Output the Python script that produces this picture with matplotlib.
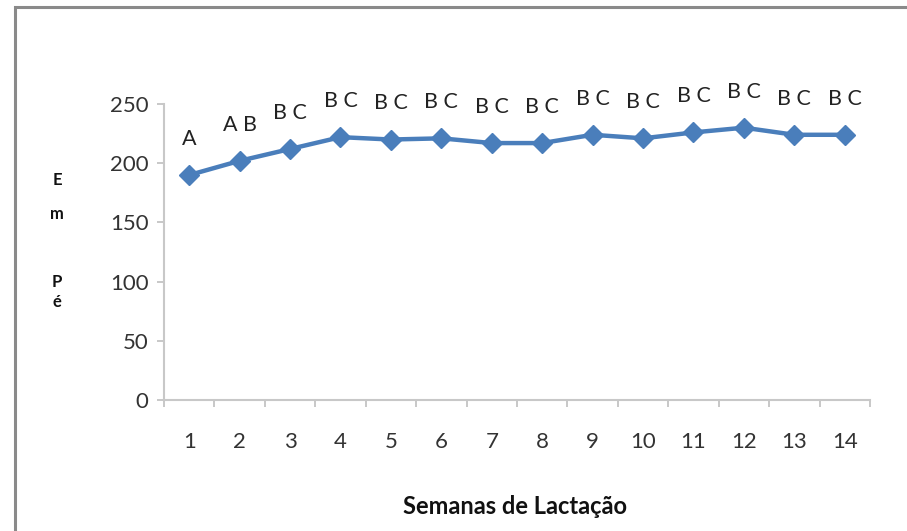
import numpy as np
import matplotlib.pyplot as plt
from matplotlib.patches import Rectangle

semanas = list(range(1, 15))
em_pe = [190, 202, 212, 222, 220, 221, 217, 217, 224, 221, 226, 230, 224, 224]
letras = ["A", "A B", "B C", "B C", "B C", "B C", "B C", "B C",
          "B C", "B C", "B C", "B C", "B C", "B C"]

plt.rcParams['font.family'] = ['Lato', 'DejaVu Sans']

fig = plt.figure(figsize=(9.07, 5.31), dpi=100)
W, H = 907, 531
ax = fig.add_axes([164 / W, 1 - 400 / H, (870 - 164) / W, (400 - 104) / H])

azul = '#4a7ebb'
ax.plot(semanas, em_pe, color=azul, lw=3.2, marker='D', ms=10.5,
        markeredgecolor=azul, markerfacecolor=azul, zorder=3)

for x, y, t in zip(semanas, em_pe, letras):
    ax.annotate(t, (x, y), xytext=(0, 26), textcoords='offset points',
                ha='center', va='center', fontsize=15.5, color='#222222')

ax.set_xlim(0.5, 14.5)
ax.set_ylim(0, 250)
ax.set_yticks(np.arange(0, 251, 50))
ax.set_xticks(semanas)
ax.set_xticks(np.arange(0.5, 15, 1), minor=True)
ax.tick_params(axis='x', which='major', length=0, pad=23)
ax.tick_params(axis='x', which='minor', length=5, color='#bfbfbf', width=1.2)
ax.tick_params(axis='y', length=5, color='#bfbfbf', width=1.2, pad=6)
ax.tick_params(labelsize=16, labelcolor='#333333')

for s in ['top', 'right']:
    ax.spines[s].set_visible(False)
for s in ['left', 'bottom']:
    ax.spines[s].set_color('#c8c8c8')
    ax.spines[s].set_linewidth(1.5)

# rotulo vertical "Em Pé", letra a letra
for t, yp in [("E", 180), ("m", 214), ("P", 282), ("é", 302)]:
    fig.text(57 / W, 1 - yp / H, t, ha='center', va='center',
             fontsize=12, fontweight='bold', color='#111111')

fig.text(515 / W, 1 - 507 / H, "Semanas de Lactação", ha='center', va='center',
         fontsize=17, fontweight='bold', color='#111111')

# moldura do grafico (so topo e lado esquerdo ficam visiveis)
fig.patches.append(Rectangle((15 / W, -0.1), 1.2, 1 - 7 / H + 0.1,
                             transform=fig.transFigure, fill=False,
                             edgecolor='#8a8a8a', lw=2.2))

fig.savefig('out.png', dpi=100)
